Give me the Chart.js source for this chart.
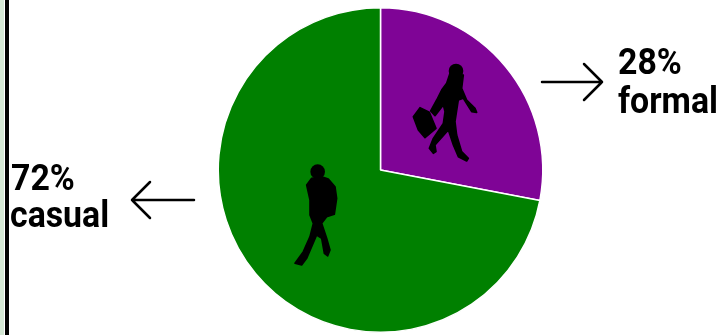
<!DOCTYPE html>
<html>
<head>
<meta charset="utf-8">
<script src="https://cdn.jsdelivr.net/npm/chart.js@4"></script>
<style>
html, body { margin: 0; padding: 0; background: #fff; }
#wrap { position: relative; width: 725px; height: 335px; overflow: hidden; }
</style>
</head>
<body>
<div id="wrap"><canvas id="chart" width="725" height="335"></canvas></div>
<script>
// ========== Datos ==========
const categories = ['formal', 'casual'];
const values = [28, 72];
const sliceColors = ['#7f0496', '#008000'];

// Siluetas: contornos en tercios de pixel, con origen relativo al centro del pie
const womanOrigin = [19.5, -115];
const womanHead = [168, 48, 22];
const womanBody = [[150,55],[140,85],[125,105],[110,135],[92,168],[105,182],[130,150],[135,170],[130,205],[100,250],[88,280],[100,295],[108,290],[105,270],[145,225],[160,270],[175,305],[200,318],[205,310],[185,290],[170,240],[165,200],[175,135],[190,130],[215,170],[230,172],[225,160],[200,135],[185,100],[190,60]];
const womanBag = [[40,185],[60,158],[88,172],[108,220],[75,248],[55,225]];
const manOrigin = [-95.5, -15];
const manHead = [98, 50, 22];
const manBody = [[80,70],[65,90],[75,135],[75,180],[85,205],[75,245],[55,290],[30,325],[50,330],[65,310],[95,240],[110,250],[118,295],[128,303],[135,285],[125,250],[110,205],[125,185],[148,178],[155,130],[150,95],[130,72],[110,65]];

function dibujarForma(ctx, ox, oy, puntos) {
    ctx.beginPath();
    puntos.forEach(([x, y], i) => {
        if (i === 0) ctx.moveTo(ox + x / 3, oy + y / 3);
        else ctx.lineTo(ox + x / 3, oy + y / 3);
    });
    ctx.closePath();
    ctx.fill();
    ctx.stroke();
}

function dibujarCabeza(ctx, ox, oy, cabeza) {
    ctx.beginPath();
    ctx.arc(ox + cabeza[0] / 3, oy + cabeza[1] / 3, cabeza[2] / 3, 0, Math.PI * 2);
    ctx.fill();
}

function dibujarFlecha(ctx, x1, x2, y, punta) {
    const dir = x2 > x1 ? -1 : 1;
    ctx.beginPath();
    ctx.moveTo(x1, y);
    ctx.lineTo(x2, y);
    ctx.moveTo(x2 + dir * punta, y - punta);
    ctx.lineTo(x2, y);
    ctx.lineTo(x2 + dir * punta, y + punta);
    ctx.stroke();
}

// texto un poco condensado, como la fuente original
function texto(ctx, str, x, y) {
    ctx.save();
    ctx.translate(x, y);
    ctx.scale(0.94, 1);
    ctx.fillText(str, 0, 0);
    ctx.restore();
}

// ========== Extras: siluetas, flechas, textos ==========
const extras = {
    id: 'extras',
    afterDraw(chart) {
        const ctx = chart.ctx;
        const arc = chart.getDatasetMeta(0).data[0];
        const cx = arc.x, cy = arc.y;
        ctx.save();
        ctx.fillStyle = '#000';
        ctx.strokeStyle = '#000';
        ctx.lineJoin = 'round';
        ctx.lineCap = 'round';

        ctx.lineWidth = 1.6;
        const wx = cx + womanOrigin[0], wy = cy + womanOrigin[1];
        const mx = cx + manOrigin[0], my = cy + manOrigin[1];
        dibujarCabeza(ctx, wx, wy, womanHead);
        dibujarForma(ctx, wx, wy, womanBody);
        dibujarForma(ctx, wx, wy, womanBag);
        dibujarCabeza(ctx, mx, my, manHead);
        dibujarForma(ctx, mx, my, manBody);

        // barra izquierda
        ctx.fillStyle = '#d3e6d3';
        ctx.fillRect(0, 0, 4, 335);
        ctx.fillStyle = '#000';
        ctx.fillRect(5, 0, 4, 335);

        ctx.lineWidth = 2.5;
        dibujarFlecha(ctx, 542, 602, 82, 18);
        dibujarFlecha(ctx, 194, 132, 200, 18);

        ctx.font = 'bold 36px "Roboto"';
        ctx.textBaseline = 'alphabetic';
        ctx.textAlign = 'left';
        texto(ctx, `${values[0]}%`, 618, 74);
        texto(ctx, categories[0], 618, 113);
        texto(ctx, `${values[1]}%`, 11, 190);
        texto(ctx, categories[1], 10, 227);
        ctx.restore();
    }
};

new Chart(document.getElementById('chart'), {
    type: 'pie',
    data: {
        labels: categories,
        datasets: [{
            data: values,
            backgroundColor: sliceColors,
            borderColor: '#fff',
            borderWidth: 1.5,
        }]
    },
    options: {
        responsive: false,
        animation: false,
        layout: { padding: { left: 36, right: 0, top: 7, bottom: 2 } },
        plugins: {
            legend: { display: false },
            tooltip: { enabled: false }
        }
    },
    plugins: [extras]
});
</script>
</body>
</html>
